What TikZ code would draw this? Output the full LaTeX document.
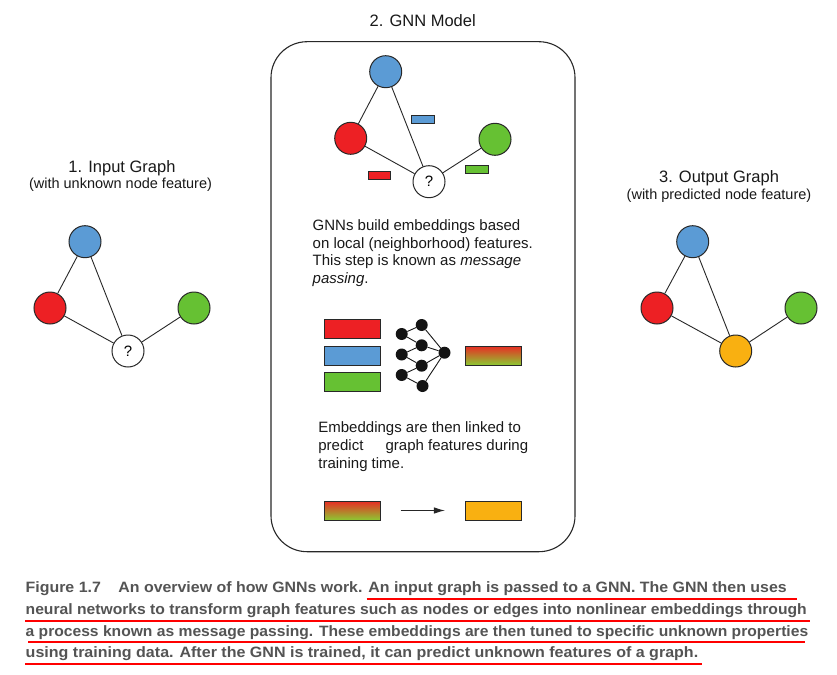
\documentclass[tikz,border=0pt]{standalone}
\usepackage{fontspec}
\usepackage{graphicx}
\setmainfont{Liberation Sans}
\newfontfamily\capfont{Liberation Sans}
\usetikzlibrary{arrows.meta}
\definecolor{nblue}{RGB}{91,155,213}
\definecolor{nred}{RGB}{237,32,36}
\definecolor{ngreen}{RGB}{102,193,51}
\definecolor{norange}{RGB}{249,176,17}
\definecolor{capgray}{RGB}{84,84,84}
\definecolor{gradred}{RGB}{232,44,36}
\definecolor{gradgreen}{RGB}{140,200,50}
\definecolor{outl}{RGB}{40,40,40}
\begin{document}
\begin{tikzpicture}[x=1pt,y=-1pt,
  gnode/.style={circle, draw=outl, line width=1pt, minimum size=32pt, inner sep=0pt, font=\fontsize{15}{18}\selectfont},
  edge/.style={draw=outl, line width=0.9pt},
  feat/.style={draw=outl, line width=1pt, minimum width=55.7pt, minimum height=19pt, inner sep=0pt},
  smallfeat/.style={draw=outl, line width=0.9pt, minimum width=22.5pt, minimum height=7.5pt, inner sep=0pt},
  grad/.style={top color=gradred, bottom color=gradgreen},
  nn/.style={circle, fill=black!92, minimum size=12pt, inner sep=0pt},
  nnedge/.style={draw=black!90, line width=0.9pt},
  title/.style={font=\fontsize{16.5}{20}\selectfont, anchor=base, inner sep=0pt, text=black!90},
  subtitle/.style={font=\fontsize{14.5}{17}\selectfont, anchor=base, inner sep=0pt, text=black!90},
  body/.style={font=\fontsize{15}{18}\selectfont, anchor=base west, inner sep=0pt, text=black!90},
  capline/.style={anchor=base west, inner sep=0pt, text=capgray, font=\capfont\bfseries\fontsize{15}{17}\selectfont},
  uline/.style={draw=red, line width=2pt},
  arrowline/.style={draw=black!85, line width=1pt, -{Latex[length=11pt,width=6.5pt]}}
]
\fill[white] (0,0) rectangle (837,674);
\useasboundingbox (0,0) rectangle (837,674);

% ---------- 1. Input graph ----------
\node[title] (t1) at (122,172.3) {1. Input Graph};
\node[subtitle] (s1) at (120.5,188) {(with unknown node feature)};
\node[gnode, fill=nblue] (ib) at (85,241.7) {};
\node[gnode, fill=nred] (ir) at (50,308) {};
\node[gnode, fill=ngreen] (ig) at (194,308) {};
\node[gnode, fill=white] (iq) at (128,351) {?};
\draw[edge] (ib) -- (ir);
\draw[edge] (ib) -- (iq);
\draw[edge] (ir) -- (iq);
\draw[edge] (ig) -- (iq);

% ---------- 3. Output graph ----------
\node[title] (t3) at (719,182.3) {3. Output Graph};
\node[subtitle] (s3) at (719,199) {(with predicted node feature)};
\node[gnode, fill=nblue] (ob) at (692.7,241.7) {};
\node[gnode, fill=nred] (or) at (657,308) {};
\node[gnode, fill=ngreen] (og) at (801,308) {};
\node[gnode, fill=norange] (oq) at (735.7,351) {};
\draw[edge] (ob) -- (or);
\draw[edge] (ob) -- (oq);
\draw[edge] (or) -- (oq);
\draw[edge] (og) -- (oq);

% ---------- 2. GNN model ----------
\node[title] (t2) at (422.7,26.7) {2. GNN Model};
\node[draw=outl, line width=1.1pt, rounded corners=36pt, minimum width=304pt, minimum height=510pt, inner sep=0pt] (gnnbox) at (423,296.7) {};

\node[gnode, fill=nblue] (gb) at (385.7,71.7) {};
\node[gnode, fill=nred] (gr) at (350.7,138.3) {};
\node[gnode, fill=ngreen] (gg) at (495,139.3) {};
\node[gnode, fill=white] (gq) at (429,181.7) {?};
\draw[edge] (gb) -- (gr);
\draw[edge] (gb) -- (gq);
\draw[edge] (gr) -- (gq);
\draw[edge] (gg) -- (gq);
\node[smallfeat, fill=nblue] (mb) at (422.8,119.5) {};
\node[smallfeat, fill=nred] (mr) at (379.5,175.3) {};
\node[smallfeat, fill=ngreen] (mg) at (477,169.5) {};

\node[body] (p1a) at (312.5,230.7) {GNNs build embeddings based};
\node[body] (p1b) at (312.5,248.3) {on local (neighborhood) features.};
\node[body] (p1c) at (312.5,265.9) {This step is known as \textit{message}};
\node[body] (p1d) at (312.5,283.5) {\textit{passing}.};

% feature vectors and neural network
\node[feat, fill=nred] (fr) at (352.2,328.8) {};
\node[feat, fill=nblue] (fb) at (352.2,355.5) {};
\node[feat, fill=ngreen] (fg) at (352.2,382.2) {};

\node[nn] (a1) at (401.7,334) {};
\node[nn] (a2) at (401.7,354.5) {};
\node[nn] (a3) at (401.7,375) {};
\node[nn] (b1) at (421.7,325) {};
\node[nn] (b2) at (421.7,345.3) {};
\node[nn] (b3) at (421.7,365.7) {};
\node[nn] (b4) at (422.5,386) {};
\node[nn] (c1) at (444.5,352.7) {};
\draw[nnedge] (a1) -- (b1);
\draw[nnedge] (a1) -- (b2);
\draw[nnedge] (a2) -- (b2);
\draw[nnedge] (a2) -- (b3);
\draw[nnedge] (a3) -- (b3);
\draw[nnedge] (a3) -- (b4);
\draw[nnedge] (b1) -- (c1);
\draw[nnedge] (b2) -- (c1);
\draw[nnedge] (b3) -- (c1);
\draw[nnedge] (b4) -- (c1);

\node[feat, grad] (emb) at (493.3,355.5) {};

\node[body] (p2a) at (318.2,432.7) {Embeddings are then linked to};
\node[body] (p2b) at (318.2,450.5) {predict\hspace{18pt} graph features during};
\node[body] (p2c) at (318.2,468.3) {training time.};

\node[feat, grad] (emb2) at (352.2,510.5) {};
\node[feat, fill=norange] (pred) at (493.3,510.5) {};
\draw[arrowline, shorten <=20pt, shorten >=20pt] (emb2) -- (pred);

% ---------- caption ----------
\node[capline] (cap1) at (25.5,592.7) {\resizebox{761pt}{\height}{Figure 1.7\hspace{1.1em}An overview of how GNNs work. An input graph is passed to a GNN. The GNN then uses}};
\node[capline] (cap2) at (25.5,614.5) {\resizebox{781pt}{\height}{neural networks to transform graph features such as nodes or edges into nonlinear embeddings through}};
\node[capline] (cap3) at (25.5,636.2) {\resizebox{782.5pt}{\height}{a process known as message passing. These embeddings are then tuned to specific unknown properties}};
\node[capline] (cap4) at (25.5,657.5) {\resizebox{672.5pt}{\height}{using training data. After the GNN is trained, it can predict unknown features of a graph.}};

\draw[uline] (366.7,599) -- (796.7,599);
\draw[uline] (25,620.7) -- (810,620.7);
\draw[uline] (28.3,641.5) -- (805,641.5);
\draw[uline] (25,664) -- (701.7,664);
\end{tikzpicture}
\end{document}
